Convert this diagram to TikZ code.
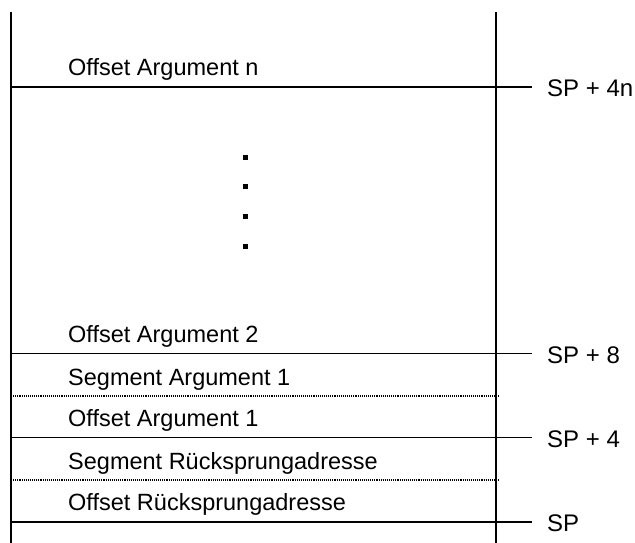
\documentclass[tikz,border=0pt]{standalone}
\usepackage{fontspec}
\setmainfont{Liberation Sans}
\begin{document}
\begin{tikzpicture}[x=1pt,y=-1pt,
  celltext/.style={anchor=base west, inner sep=0pt, font=\fontsize{23.5}{28}\selectfont},
  sptext/.style={anchor=base west, inner sep=0pt, font=\fontsize{24}{28}\selectfont},
  solidrule/.style={line width=1.4pt, draw=black},
  dotrule/.style={line width=1.2pt, draw=black, dash pattern=on 1.1pt off 1pt},
  dotsq/.style={fill=black, draw=none, minimum size=5pt, inner sep=0pt, rectangle}]
\useasboundingbox (0,0) rectangle (635,543);
% walls
\coordinate (lt) at (11,12);  \coordinate (lb) at (11,543);
\coordinate (rt) at (496,12); \coordinate (rb) at (496,543);
\draw[solidrule] (lt) -- (lb);
\draw[solidrule] (rt) -- (rb);
% solid rules with ticks
\coordinate (s1a) at (11,87);    \coordinate (s1b) at (532,87);
\coordinate (s2a) at (11,353.5); \coordinate (s2b) at (532,353.5);
\coordinate (s3a) at (11,437.5); \coordinate (s3b) at (532,437.5);
\coordinate (s4a) at (11,522);   \coordinate (s4b) at (532,522);
\draw[solidrule] (s1a) -- (s1b);
\draw[solidrule] (s2a) -- (s2b);
\draw[solidrule] (s3a) -- (s3b);
\draw[solidrule] (s4a) -- (s4b);
% dotted rules
\coordinate (d1a) at (11,396);   \coordinate (d1b) at (499,396);
\coordinate (d2a) at (11,480);   \coordinate (d2b) at (499,480);
\draw[dotrule] (d1a) -- (d1b);
\draw[dotrule] (d2a) -- (d2b);
% cell texts
\node[celltext] (tn)  at (68,75.5)  {Offset Argument n};
\node[celltext] (t2)  at (68,342)   {Offset Argument 2};
\node[celltext] (ts1) at (68,385)   {Segment Argument 1};
\node[celltext] (t1)  at (68,426)   {Offset Argument 1};
\node[celltext] (tsr) at (68,469)   {Segment Rücksprungadresse};
\node[celltext] (tor) at (68,510.5) {Offset Rücksprungadresse};
% ellipsis squares
\node[dotsq] (q1) at (245,157) {};
\node[dotsq] (q2) at (245,186.5) {};
\node[dotsq] (q3) at (245,216) {};
\node[dotsq] (q4) at (245,246) {};
% SP labels
\node[sptext] (l1) at (547,96)    {SP + 4n};
\node[sptext] (l2) at (547,363)   {SP + 8};
\node[sptext] (l3) at (547,447)   {SP + 4};
\node[sptext] (l4) at (547,531.5) {SP};
\end{tikzpicture}
\end{document}
